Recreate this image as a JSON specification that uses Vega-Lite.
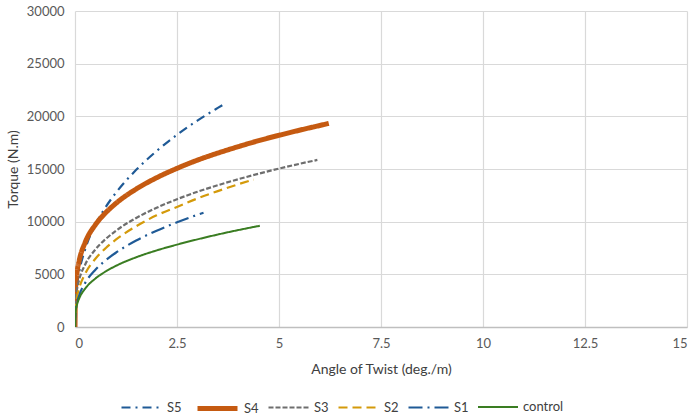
{
  "$schema": "https://vega.github.io/schema/vega-lite/v6.json",
  "width": 612,
  "height": 316,
  "autosize": {"type": "none"},
  "padding": {"left": 75, "top": 11, "right": 4, "bottom": 91},
  "background": "white",
  "config": {
    "font": "Lato",
    "view": {"stroke": null},
    "axis": {"labelFont": "Lato", "titleFont": "Lato", "labelColor": "#595959", "titleColor": "#404040", "gridColor": "#D9D9D9", "gridWidth": 1.2, "ticks": false}
  },
  "data": {
    "values": [
      {"series": "S5", "x": 0, "y": 0},
      {"series": "S5", "x": 0.01, "y": 2090},
      {"series": "S5", "x": 0.05, "y": 3930},
      {"series": "S5", "x": 0.1, "y": 5160},
      {"series": "S5", "x": 0.25, "y": 7390},
      {"series": "S5", "x": 0.5, "y": 9700},
      {"series": "S5", "x": 0.75, "y": 11370},
      {"series": "S5", "x": 1, "y": 12730},
      {"series": "S5", "x": 1.5, "y": 14920},
      {"series": "S5", "x": 2, "y": 16700},
      {"series": "S5", "x": 2.5, "y": 18250},
      {"series": "S5", "x": 3, "y": 19600},
      {"series": "S5", "x": 3.5, "y": 20800},
      {"series": "S5", "x": 3.69, "y": 21240},
      {"series": "S4", "x": 0, "y": 0},
      {"series": "S4", "x": 0.01, "y": 3340},
      {"series": "S4", "x": 0.05, "y": 5180},
      {"series": "S4", "x": 0.1, "y": 6250},
      {"series": "S4", "x": 0.25, "y": 8040},
      {"series": "S4", "x": 0.5, "y": 9710},
      {"series": "S4", "x": 0.75, "y": 10840},
      {"series": "S4", "x": 1, "y": 11730},
      {"series": "S4", "x": 1.5, "y": 13100},
      {"series": "S4", "x": 2, "y": 14170},
      {"series": "S4", "x": 2.5, "y": 15060},
      {"series": "S4", "x": 3, "y": 15840},
      {"series": "S4", "x": 3.5, "y": 16510},
      {"series": "S4", "x": 4, "y": 17120},
      {"series": "S4", "x": 4.5, "y": 17690},
      {"series": "S4", "x": 5, "y": 18200},
      {"series": "S4", "x": 5.5, "y": 18680},
      {"series": "S4", "x": 6, "y": 19130},
      {"series": "S4", "x": 6.22, "y": 19330},
      {"series": "S3", "x": 0, "y": 0},
      {"series": "S3", "x": 0.01, "y": 2190},
      {"series": "S3", "x": 0.05, "y": 3610},
      {"series": "S3", "x": 0.1, "y": 4470},
      {"series": "S3", "x": 0.25, "y": 5940},
      {"series": "S3", "x": 0.5, "y": 7360},
      {"series": "S3", "x": 0.75, "y": 8350},
      {"series": "S3", "x": 1, "y": 9130},
      {"series": "S3", "x": 1.5, "y": 10350},
      {"series": "S3", "x": 2, "y": 11320},
      {"series": "S3", "x": 2.5, "y": 12130},
      {"series": "S3", "x": 3, "y": 12840},
      {"series": "S3", "x": 3.5, "y": 13460},
      {"series": "S3", "x": 4, "y": 14030},
      {"series": "S3", "x": 4.5, "y": 14550},
      {"series": "S3", "x": 5, "y": 15040},
      {"series": "S3", "x": 5.5, "y": 15490},
      {"series": "S3", "x": 5.94, "y": 15860},
      {"series": "S2", "x": 0, "y": 0},
      {"series": "S2", "x": 0.01, "y": 1620},
      {"series": "S2", "x": 0.05, "y": 2860},
      {"series": "S2", "x": 0.1, "y": 3660},
      {"series": "S2", "x": 0.25, "y": 5070},
      {"series": "S2", "x": 0.5, "y": 6480},
      {"series": "S2", "x": 0.75, "y": 7480},
      {"series": "S2", "x": 1, "y": 8290},
      {"series": "S2", "x": 1.5, "y": 9570},
      {"series": "S2", "x": 2, "y": 10600},
      {"series": "S2", "x": 2.5, "y": 11400},
      {"series": "S2", "x": 3, "y": 12200},
      {"series": "S2", "x": 3.5, "y": 12900},
      {"series": "S2", "x": 4, "y": 13550},
      {"series": "S2", "x": 4.38, "y": 14000},
      {"series": "S1", "x": 0, "y": 0},
      {"series": "S1", "x": 0.01, "y": 1250},
      {"series": "S1", "x": 0.05, "y": 2290},
      {"series": "S1", "x": 0.1, "y": 2970},
      {"series": "S1", "x": 0.25, "y": 4190},
      {"series": "S1", "x": 0.5, "y": 5440},
      {"series": "S1", "x": 0.75, "y": 6330},
      {"series": "S1", "x": 1, "y": 7050},
      {"series": "S1", "x": 1.5, "y": 8210},
      {"series": "S1", "x": 2, "y": 9140},
      {"series": "S1", "x": 2.5, "y": 9940},
      {"series": "S1", "x": 3, "y": 10650},
      {"series": "S1", "x": 3.15, "y": 10840},
      {"series": "control", "x": 0, "y": 0},
      {"series": "control", "x": 0.01, "y": 1250},
      {"series": "control", "x": 0.05, "y": 2130},
      {"series": "control", "x": 0.1, "y": 2690},
      {"series": "control", "x": 0.25, "y": 3650},
      {"series": "control", "x": 0.5, "y": 4600},
      {"series": "control", "x": 0.75, "y": 5270},
      {"series": "control", "x": 1, "y": 5800},
      {"series": "control", "x": 1.5, "y": 6620},
      {"series": "control", "x": 2, "y": 7270},
      {"series": "control", "x": 2.5, "y": 7820},
      {"series": "control", "x": 3, "y": 8320},
      {"series": "control", "x": 3.5, "y": 8780},
      {"series": "control", "x": 4, "y": 9200},
      {"series": "control", "x": 4.53, "y": 9610}
    ]
  },
  "mark": {"type": "line", "interpolate": "monotone", "clip": true},
  "encoding": {
    "x": {
      "field": "x", "type": "quantitative",
      "scale": {"domain": [0, 15], "nice": false, "zero": true},
      "axis": {"values": [0, 2.5, 5, 7.5, 10, 12.5, 15], "format": ".1~f", "title": "Angle of Twist (deg./m)", "labelFontSize": 13, "titleFontSize": 14, "titleFontWeight": "normal", "labelPadding": 10, "titlePadding": 12, "domainColor": "#BFBFBF", "domainWidth": 1.5}
    },
    "y": {
      "field": "y", "type": "quantitative",
      "scale": {"domain": [0, 30000], "nice": false},
      "axis": {"values": [0, 5000, 10000, 15000, 20000, 25000, 30000], "format": "d", "title": "Torque (N.m)", "labelFontSize": 13, "titleFontSize": 14, "titleFontWeight": "normal", "labelPadding": 11, "titlePadding": 6, "domain": false}
    },
    "color": {
      "field": "series", "type": "nominal",
      "scale": {"domain": ["S5", "S4", "S3", "S2", "S1", "control"], "range": ["#1F5A96", "#C55A11", "#6E6E6E", "#D49A0A", "#1F5A96", "#3A7D22"]},
      "legend": {"title": null, "orient": "none", "legendX": 45, "legendY": 375, "direction": "horizontal", "gridAlign": "none", "symbolType": "stroke", "symbolSize": 1600, "labelFontSize": 13, "labelColor": "#404040", "labelFont": "Lato", "columnPadding": 5, "labelOffset": 4}
    },
    "strokeDash": {
      "field": "series", "type": "nominal",
      "scale": {"domain": ["S5", "S4", "S3", "S2", "S1", "control"], "range": [[9, 5, 2, 5], [1, 0], [5, 2], [9, 5], [14, 5, 2, 5], [1, 0]]},
      "legend": null
    },
    "strokeWidth": {
      "field": "series", "type": "nominal",
      "scale": {"type": "ordinal", "domain": ["S5", "S4", "S3", "S2", "S1", "control"], "range": [2.2, 5, 2.2, 2.2, 2.2, 2]},
      "legend": null
    }
  }
}
